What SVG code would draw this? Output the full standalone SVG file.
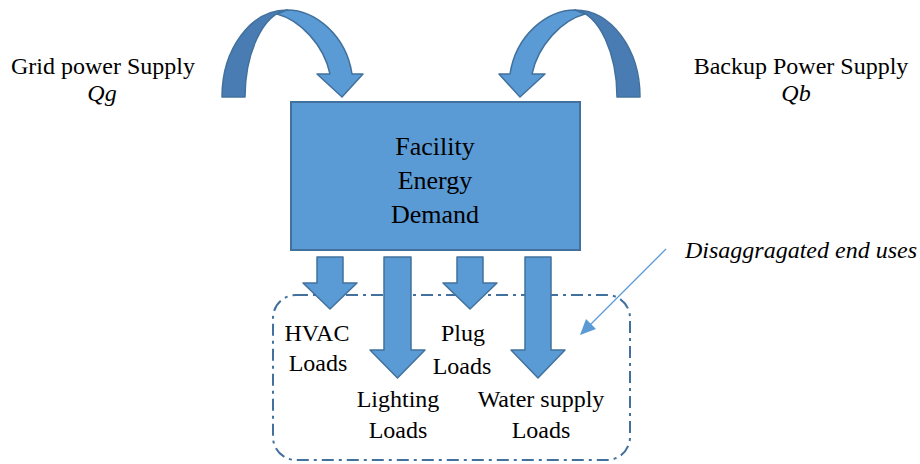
<svg xmlns="http://www.w3.org/2000/svg" width="920" height="464" viewBox="0 0 920 464">
  <defs>
    <style>
      text { font-family: "Liberation Serif", "Times New Roman", serif; fill: #000; text-anchor: middle; }
      .lbl { font-size: 24px; }
      .box-t { font-size: 26px; }
      .it { font-style: italic; }
      .blk { fill: #5B9BD5; stroke: #41719C; stroke-width: 1.5; stroke-linejoin: round; }
      .dark { fill: #4A7CB4; stroke: #41719C; stroke-width: 1.5; stroke-linejoin: round; }
      .grp { fill: none; stroke: #41719C; stroke-width: 2; stroke-dasharray: 12 5 3 5; }
    </style>
    <marker id="ah" markerWidth="10" markerHeight="8" refX="9" refY="4" orient="auto" markerUnits="userSpaceOnUse" viewBox="0 0 10 8">
      <path d="M0,0 L10,4 L0,8 Z" fill="#5B9BD5"/>
    </marker>
    <g id="curved">
      <path class="dark" d="M222,97 C222,49 251,10 287,10 C262,14 245,55 245,97 Z"/>
      <path class="blk" d="M287,10 C315,10 346,35 352,74 L363,74 L342,97 L317,74 L330,74 C324,45 300,20 277,14 Z"/>
    </g>
  </defs>
  <rect width="920" height="464" fill="#FFFFFF"/>

  <g id="end-uses-group">
    <rect class="grp" x="273" y="295" width="357" height="165" rx="23" ry="23"/>
  </g>

  <g id="connectors">
    <g id="grid-arrow"><use href="#curved"/></g>
    <g id="backup-arrow"><use href="#curved" transform="matrix(-1 0 0 1 862 0)"/></g>
    <path id="hvac-arrow" class="blk" d="M317,257 H343 V283 H357 L330,309 L303,283 H317 Z"/>
    <path id="lighting-arrow" class="blk" d="M384,257 H411 V350 H425 L397.5,378 L370,350 H384 Z"/>
    <path id="plug-arrow" class="blk" d="M457,257 H483 V283 H497 L470,309 L443,283 H457 Z"/>
    <path id="water-arrow" class="blk" d="M525,257 H551 V350 H565 L538,378 L511,350 H525 Z"/>
    <line id="pointer" x1="666" y1="249" x2="581" y2="334" stroke="#5B9BD5" stroke-width="1.3"/>
    <path d="M580,335 L586,319 L596,329 Z" fill="#5B9BD5"/>
  </g>

  <g id="facility">
    <rect x="291" y="102" width="289" height="148" fill="#5B9BD5" stroke="#41719C" stroke-width="2"/>
    <text class="box-t" x="435" y="155">Facility</text>
    <text class="box-t" x="435" y="189">Energy</text>
    <text class="box-t" x="435" y="223">Demand</text>
  </g>

  <g id="grid">
    <text class="lbl" x="103" y="74">Grid power Supply</text>
    <text class="lbl it" x="102" y="101">Qg</text>
  </g>

  <g id="backup">
    <text class="lbl" x="801" y="74">Backup Power Supply</text>
    <text class="lbl it" x="796" y="101">Qb</text>
  </g>

  <g id="disaggregated">
    <text class="lbl it" x="801" y="258">Disaggragated end uses</text>
  </g>

  <g id="hvac">
    <text class="lbl" x="317" y="341">HVAC</text>
    <text class="lbl" x="318" y="371">Loads</text>
  </g>
  <g id="plug">
    <text class="lbl" x="463" y="341">Plug</text>
    <text class="lbl" x="462" y="374">Loads</text>
  </g>
  <g id="lighting">
    <text class="lbl" x="398" y="407">Lighting</text>
    <text class="lbl" x="398" y="438">Loads</text>
  </g>
  <g id="water">
    <text class="lbl" x="541" y="407">Water supply</text>
    <text class="lbl" x="541" y="438">Loads</text>
  </g>
</svg>
